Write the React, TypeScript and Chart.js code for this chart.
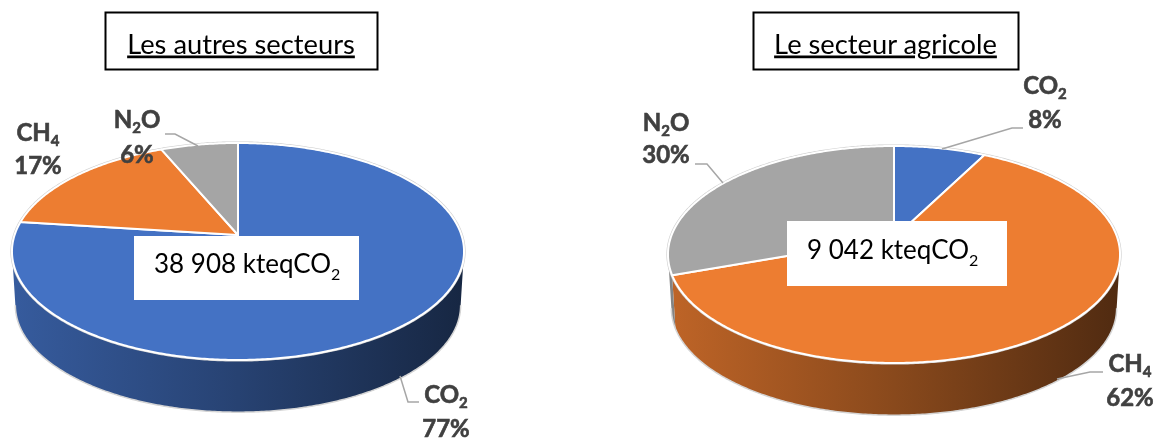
import React, { useEffect, useRef } from "react";
import { Chart, registerables } from "chart.js";

Chart.register(...registerables);

// ---- data ----
const gases = ["CO2", "CH4", "N2O"];
const otherSectorsValues = [77, 16.6, 6.4];
const farmingValues = [7.6, 62, 30.4];
const otherSectorsTitle = "Les autres secteurs";
const farmingTitle = "Le secteur agricole";
const otherSectorsTotal = "38 908 kteq";
const farmingTotal = "9 042 kteq";
const otherSectorsPercent = ["77%", "17%", "6%"];
const farmingPercent = ["8%", "62%", "30%"];

const sliceColors = ["#4472C4", "#ED7D31", "#A5A5A5"];
const FONT = "Lato, Carlito, sans-serif";
const K = 0.152; // perspective strength
const SQUASH = 0.4745; // ellipse height / width
const DEPTH = 53.8;
const BOTTOM_SCALE = 0.985;
const SHADE_STOPS = [0.8, 0.58, 0.34];

function shade(hex: string, f: number) {
  const n = parseInt(hex.slice(1), 16);
  const r = Math.round(((n >> 16) & 255) * f);
  const g = Math.round(((n >> 8) & 255) * f);
  const b = Math.round((n & 255) * f);
  return `rgb(${r},${g},${b})`;
}

// Perspective tilted disc: library's arc angle -> page position of its rim
function rim(arc: any, angle: number, drop = false) {
  const R = arc.outerRadius;
  const u = Math.cos(angle);
  const v = Math.sin(angle);
  const den = 1 - K * v;
  const x = arc.x + (R * u) / den;
  const y = arc.y + (R * SQUASH * v) / den;
  if (!drop) return [x, y];
  // centre of the drawn ellipse, which sits below the apex of the slices
  const cy = arc.y + (R * SQUASH * K) / (1 - K * K);
  return [arc.x + (x - arc.x) * BOTTOM_SCALE, cy + (y - cy) * BOTTOM_SCALE + DEPTH];
}

function samples(a: number, b: number) {
  const n = Math.max(2, Math.ceil((b - a) / 0.01));
  const out: number[] = [];
  for (let i = 0; i <= n; i++) out.push(a + ((b - a) * i) / n);
  return out;
}

const tiltedPie = {
  id: "tiltedPie",
  beforeDatasetDraw(chart: any) {
    const ctx = chart.ctx;
    const arcs = chart.getDatasetMeta(0).data;
    const colors = chart.data.datasets[0].backgroundColor;
    const first = arcs[0];
    const visA = Math.asin(K);
    const visB = Math.PI - visA;
    const norm = (x: number) => {
      let t = x;
      while (t < -Math.PI / 2 - 1e-9) t += Math.PI * 2;
      return t;
    };
    ctx.save();
    // front wall of the disc, slice by slice
    arcs.forEach((arc: any, i: number) => {
      const s = norm(arc.startAngle);
      const e = s + (arc.endAngle - arc.startAngle);
      const a = Math.max(s, visA);
      const b = Math.min(e, visB);
      if (b <= a) return;
      const g = ctx.createLinearGradient(first.x - first.outerRadius, 0, first.x + first.outerRadius, 0);
      g.addColorStop(0, shade(colors[i], SHADE_STOPS[0]));
      g.addColorStop(0.5, shade(colors[i], SHADE_STOPS[1]));
      g.addColorStop(1, shade(colors[i], SHADE_STOPS[2]));
      ctx.beginPath();
      samples(a, b).forEach((t, k) => {
        const [x, y] = rim(arc, t);
        k ? ctx.lineTo(x, y) : ctx.moveTo(x, y);
      });
      samples(a, b)
        .reverse()
        .forEach((t) => {
          const [x, y] = rim(arc, t, true);
          ctx.lineTo(x, y);
        });
      ctx.closePath();
      ctx.fillStyle = g;
      ctx.fill();
    });
    // pale outline of the wall
    ctx.beginPath();
    samples(visA, visB).forEach((t, k) => {
      const [x, y] = rim(first, t, true);
      k ? ctx.lineTo(x, y) : ctx.moveTo(x, y);
    });
    ctx.strokeStyle = "#d4d4d4";
    ctx.lineWidth = 1.5;
    ctx.stroke();
    // outline behind the top face
    ctx.beginPath();
    samples(0, Math.PI * 2).forEach((t, k) => {
      const [x, y] = rim(first, t);
      k ? ctx.lineTo(x, y) : ctx.moveTo(x, y);
    });
    ctx.closePath();
    ctx.strokeStyle = "#cfcfcf";
    ctx.lineWidth = 3.2;
    ctx.stroke();
    // top faces
    arcs.forEach((arc: any, i: number) => {
      ctx.beginPath();
      ctx.moveTo(arc.x, arc.y);
      samples(arc.startAngle, arc.endAngle).forEach((t) => {
        const [x, y] = rim(arc, t);
        ctx.lineTo(x, y);
      });
      ctx.closePath();
      ctx.fillStyle = colors[i];
      ctx.fill();
      ctx.strokeStyle = "#ffffff";
      ctx.lineWidth = 2;
      ctx.lineJoin = "round";
      ctx.stroke();
    });
    ctx.restore();
    return false;
  },
};

function makePie(canvas: HTMLCanvasElement, values: number[], padding: any) {
  return new Chart(canvas, {
    type: "pie",
    data: {
      labels: gases,
      datasets: [{ data: values, backgroundColor: sliceColors, borderWidth: 0 }],
    },
    options: {
      animation: false,
      responsive: false,
      radius: 223.4,
      layout: { padding },
      plugins: { legend: { display: false }, tooltip: { enabled: false } },
    } as any,
    plugins: [tiltedPie],
  });
}

const boldText = { fontFamily: FONT, fontSize: 24, fontWeight: 700, fill: "#404040", stroke: "#404040", strokeWidth: 0.6 };

function Gas({ x, y, name, sub, tail }: any) {
  return (
    <text x={x} y={y} textAnchor="middle" {...boldText}>
      {name}
      <tspan fontSize={15} dy={5}>{sub}</tspan>
      {tail ? <tspan dy={-5}>{tail}</tspan> : null}
    </text>
  );
}

function Pct({ x, y, text }: any) {
  return (
    <text x={x} y={y} textAnchor="middle" {...boldText}>
      {text}
    </text>
  );
}

function Title({ x, y, w, h, text }: any) {
  return (
    <g>
      <rect x={x} y={y} width={w} height={h} fill="#fff" stroke="#000" strokeWidth={2} />
      <text
        x={x + w / 2 - 0.5}
        y={y + 41}
        textAnchor="middle"
        fontFamily={FONT}
        fontSize={27.3}
        fill="#000"
        style={{ textDecoration: "underline" }}
      >
        {text}
      </text>
    </g>
  );
}

function Total({ x, y, w, h, tx, ty, text }: any) {
  return (
    <g>
      <rect x={x} y={y} width={w} height={h} fill="#fff" />
      <text x={tx} y={ty} fontFamily={FONT} fontSize={26} fill="#000">
        {text}CO<tspan fontSize={16} dy={7}>2</tspan>
      </text>
    </g>
  );
}

export default function App() {
  const a = useRef<HTMLCanvasElement>(null);
  const b = useRef<HTMLCanvasElement>(null);
  useEffect(() => {
    const c1 = makePie(a.current!, otherSectorsValues, { right: 686, top: 28 });
    const c2 = makePie(b.current!, farmingValues, { left: 626, top: 34 });
    return () => {
      c1.destroy();
      c2.destroy();
    };
  }, []);
  const layer: React.CSSProperties = { position: "absolute", left: 0, top: 0 };
  const leader = { fill: "none", stroke: "#a6a6a6", strokeWidth: 1.5 };
  return (
    <div style={{ position: "absolute", left: 0, top: 0, width: 1162, height: 442, overflow: "hidden", background: "#fff" }}>
      <canvas ref={a} width={1162} height={442} style={layer} />
      <canvas ref={b} width={1162} height={442} style={layer} />
      <svg width={1162} height={442} style={layer}>
        <polyline points="165,134 175,134 198,146" {...leader} />
        <polyline points="400,376 408,402 419,402" {...leader} />
        <polyline points="942,149 1012,128 1023,128" {...leader} />
        <polyline points="695,164 707,164 723,183" {...leader} />
        <polyline points="1057,379 1090,372 1103,372" {...leader} />

        <Title x={105.5} y={12.5} w={272} h={57} text={otherSectorsTitle} />
        <Title x={753.5} y={12.5} w={265} h={57} text={farmingTitle} />
        <Total x={134} y={236} w={225} h={64} tx={154} ty={273} text={otherSectorsTotal} />
        <Total x={787} y={221} w={220} h={65} tx={807} ty={259} text={farmingTotal} />

        <Gas x={38} y={141} name="CH" sub="4" />
        <Pct x={38} y={174} text={otherSectorsPercent[1]} />
        <Gas x={137} y={128} name="N" sub="2" tail="O" />
        <Pct x={137} y={163} text={otherSectorsPercent[2]} />
        <Gas x={446} y={403} name="CO" sub="2" />
        <Pct x={446} y={437} text={otherSectorsPercent[0]} />

        <Gas x={1045} y={94} name="CO" sub="2" />
        <Pct x={1045} y={128} text={farmingPercent[0]} />
        <Gas x={666} y={131} name="N" sub="2" tail="O" />
        <Pct x={666} y={163} text={farmingPercent[2]} />
        <Gas x={1130} y={372} name="CH" sub="4" />
        <Pct x={1130} y={406} text={farmingPercent[1]} />
      </svg>
    </div>
  );
}
